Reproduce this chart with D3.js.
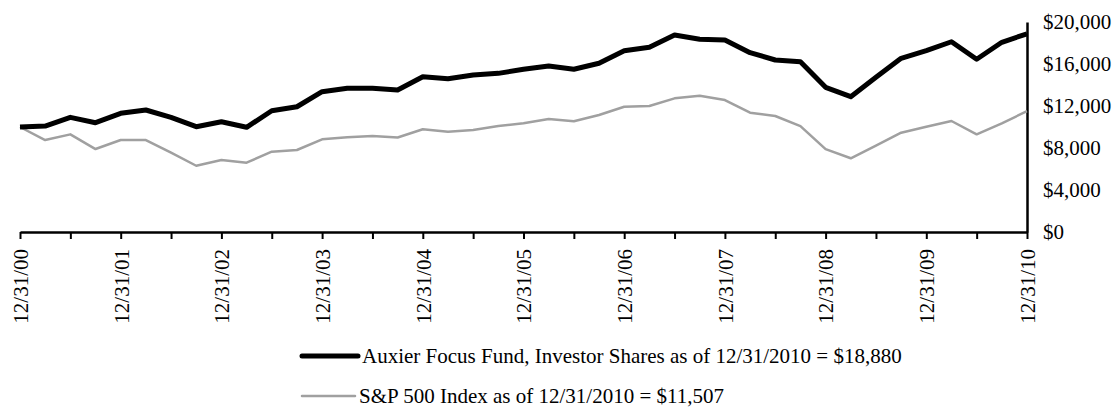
<!DOCTYPE html>
<html>
<head>
<meta charset="utf-8">
<script src="https://cdn.jsdelivr.net/npm/d3@7/dist/d3.min.js"></script>
<style>
  body { margin: 0; background: #fff; }
  svg { display: block; font-family: "Liberation Serif", "Times New Roman", serif; }
</style>
</head>
<body>
<svg id="chart" width="1116" height="408"></svg>
<script>
// quarter ends, 12/31/00 .. 12/31/10
const quarters = [
  "12/31/00", "3/31/01", "6/30/01", "9/30/01", "12/31/01", "3/31/02", "6/30/02", "9/30/02",
  "12/31/02", "3/31/03", "6/30/03", "9/30/03", "12/31/03", "3/31/04", "6/30/04", "9/30/04",
  "12/31/04", "3/31/05", "6/30/05", "9/30/05", "12/31/05", "3/31/06", "6/30/06", "9/30/06",
  "12/31/06", "3/31/07", "6/30/07", "9/30/07", "12/31/07", "3/31/08", "6/30/08", "9/30/08",
  "12/31/08", "3/31/09", "6/30/09", "9/30/09", "12/31/09", "3/31/10", "6/30/10", "9/30/10",
  "12/31/10"
];
const fundValues = [
  10000, 10090, 10920, 10410, 11300, 11620, 10920, 10030,
  10500, 9970, 11550, 11930, 13360, 13690, 13690, 13520,
  14790, 14600, 14950, 15110, 15500, 15810, 15500, 16070,
  17270, 17590, 18760, 18350, 18290, 17080, 16380, 16220,
  13780, 12890, 14730, 16540, 17270, 18120, 16450, 18070,
  18880
];
const indexValues = [
  10000, 8760, 9300, 7900, 8760, 8760, 7550, 6310,
  6860, 6600, 7650, 7810, 8830, 9020, 9140, 9000,
  9780, 9550, 9710, 10090, 10350, 10760, 10540, 11140,
  11930, 12000, 12730, 12980, 12570, 11360, 11050, 10090,
  7900, 7020, 8220, 9460, 10030, 10570, 9300, 10350,
  11507
];
const yTicks = [0, 4000, 8000, 12000, 16000, 20000];
const yearLabels = ["12/31/00", "12/31/01", "12/31/02", "12/31/03", "12/31/04", "12/31/05",
  "12/31/06", "12/31/07", "12/31/08", "12/31/09", "12/31/10"];
const legendLabels = [
  "Auxier Focus Fund, Investor Shares as of 12/31/2010 = $18,880",
  "S&P 500 Index as of 12/31/2010 = $11,507"
];

const svg = d3.select("#chart");
const plotLeft = 20, plotRight = 1027, plotTop = 22, plotBottom = 232;

const x = d3.scalePoint().domain(quarters).range([plotLeft, plotRight]);
const y = d3.scaleLinear().domain([0, 20000]).range([plotBottom, plotTop]);

// x axis: tick every half year, label each year end
const xAxis = d3.axisBottom(x)
  .tickValues(quarters.filter((q, i) => i % 2 === 0))
  .tickSizeInner(7)
  .tickSizeOuter(0)
  .tickFormat(d => yearLabels.includes(d) ? d : "");

const gx = svg.append("g")
  .attr("transform", `translate(0,${plotBottom})`)
  .call(xAxis);
gx.select(".domain").attr("stroke", "#000").attr("stroke-width", 2.5);
gx.selectAll(".tick line").attr("stroke", "#000").attr("stroke-width", 2);
gx.selectAll(".tick text")
  .attr("y", 0)
  .attr("x", -17)
  .attr("dy", "0.35em")
  .attr("transform", "rotate(-90)")
  .style("text-anchor", "end")
  .style("font-family", "Liberation Serif")
  .style("font-size", "21px")
  .attr("fill", "#000");

// y axis on the right, no tick marks
const yAxis = d3.axisRight(y)
  .tickValues(yTicks)
  .tickSize(0)
  .tickPadding(16)
  .tickFormat(d => "$" + d3.format(",")(d));

const gy = svg.append("g")
  .attr("transform", `translate(${plotRight},0)`)
  .call(yAxis);
gy.select(".domain").attr("stroke", "#000").attr("stroke-width", 2.5);
gy.selectAll(".tick text")
  .style("font-family", "Liberation Serif")
  .style("font-size", "21px")
  .attr("fill", "#000");

const line = d3.line()
  .x((d, i) => x(quarters[i]))
  .y(d => y(d));

svg.append("path")
  .datum(indexValues)
  .attr("fill", "none")
  .attr("stroke", "#a0a0a0")
  .attr("stroke-width", 2.5)
  .attr("stroke-linejoin", "round")
  .attr("d", line);

svg.append("path")
  .datum(fundValues)
  .attr("fill", "none")
  .attr("stroke", "#000")
  .attr("stroke-width", 5)
  .attr("stroke-linejoin", "round")
  .attr("d", line);

// legend
const legend = [
  { label: legendLabels[0], color: "#000", width: 5, x2: 358, y: 356 },
  { label: legendLabels[1], color: "#a0a0a0", width: 2.5, x2: 355, y: 396 }
];
const lg = svg.append("g").selectAll("g").data(legend).join("g");
lg.append("line")
  .attr("x1", 302).attr("x2", d => d.x2)
  .attr("y1", d => d.y).attr("y2", d => d.y)
  .attr("stroke", d => d.color)
  .attr("stroke-width", d => d.width)
  .attr("stroke-linecap", "round");
lg.append("text")
  .attr("x", d => d.x2 + 4)
  .attr("y", d => d.y)
  .attr("dy", "0.35em")
  .style("font-size", "21px")
  .text(d => d.label);
</script>
</body>
</html>
